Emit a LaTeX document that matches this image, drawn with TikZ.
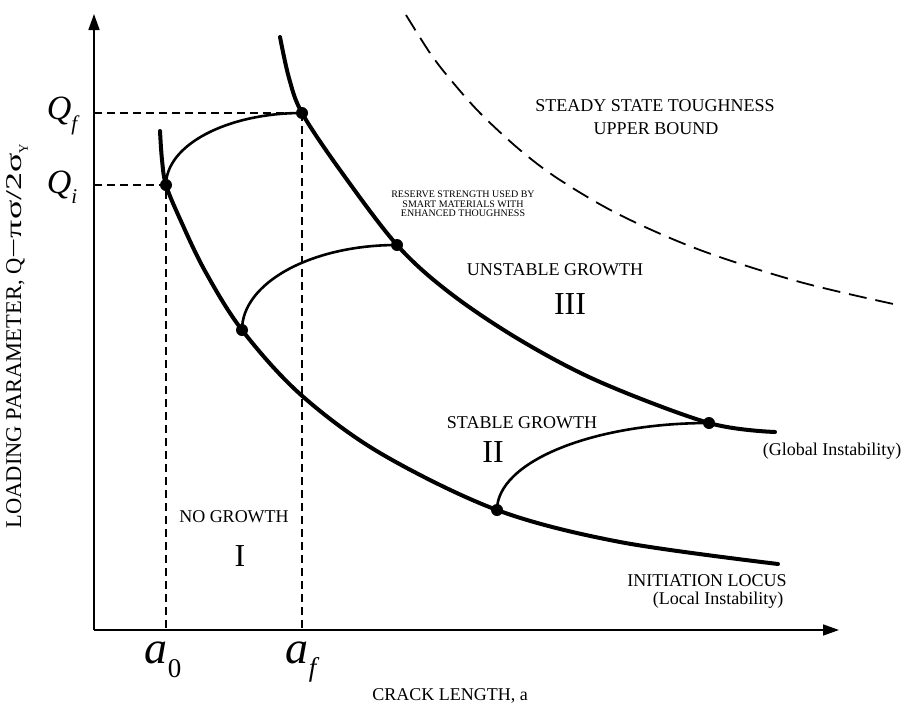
\documentclass[tikz,border=0pt]{standalone}
\usepackage{fontspec}
\setmainfont{Liberation Serif}
\usetikzlibrary{arrows.meta}
\tikzset{
  maincurve/.style={line width=4pt, line cap=round},
  growarc/.style={line width=2.6pt},
  dotnode/.style={circle, fill=black, inner sep=0pt, minimum size=12pt},
  guide/.style={dashed, dash pattern=on 8pt off 5pt, line width=1.1pt},
  bounddash/.style={dashed, dash pattern=on 18pt off 9pt, line width=1.8pt},
  axisline/.style={line width=1.6pt, -{Triangle[length=16pt,width=11pt]}},
  lbl/.style={font=\fontsize{18}{20}\selectfont, inner sep=0pt, align=center},
  tiny/.style={font=\fontsize{10}{9.5}\selectfont, inner sep=0pt, align=center},
  roman/.style={font=\fontsize{32}{34}\selectfont, inner sep=0pt},
  qlbl/.style={font=\fontsize{34}{36}\selectfont\itshape, inner sep=0pt},
  albl/.style={font=\fontsize{46}{48}\selectfont\itshape, inner sep=0pt},
}
\newcommand{\lowsub}[2]{\raisebox{-0.3em}{\fontsize{#1}{#1}\selectfont #2}}
\begin{document}
\begin{tikzpicture}[x=1pt,y=-1pt]
\useasboundingbox (0,0) rectangle (908,707);
% axes
\coordinate (origin) at (94,630);
\coordinate (ytip) at (94,14);
\coordinate (xtip) at (839,630);
\draw[axisline] (origin) -- (ytip);
\draw[axisline] (origin) -- (xtip);
% dots
\node[dotnode] (qi) at (166,185) {};
\node[dotnode] (qf) at (302,113) {};
\node[dotnode] (l2) at (242,330) {};
\node[dotnode] (u2) at (397,245) {};
\node[dotnode] (l3) at (497,510) {};
\node[dotnode] (u3) at (709,423) {};
% guide lines
\coordinate (yqf) at (94,113);
\coordinate (yqi) at (94,185);
\coordinate (xa0) at (166,630);
\coordinate (xaf) at (302,630);
\draw[guide] (yqf) -- (qf.center) -- (xaf);
\draw[guide] (yqi) -- (qi.center) -- (xa0);
% initiation locus
\draw[maincurve] plot[smooth, tension=0.55] coordinates {(160,131) (162,160) (166,185) (180,219) (205,271) (242,330) (300,394) (380,453) (497,510) (620,542) (778,564)};
% global instability curve
\draw[maincurve] plot[smooth, tension=0.55] coordinates {(280,37) (289,78) (302,113) (340,170) (397,245) (450,293) (520,340) (600,382) (709,423) (775,432)};
% upper bound
\draw[bounddash] plot[smooth, tension=0.55] coordinates {(406,15) (430,53) (450,79) (480,113) (520,150) (560,180) (620,215) (700,250) (800,282) (898,305)};
% growth arcs
\draw[growarc] (qi.center) .. controls +(0,-40) and +(-75,0) .. (qf.center);
\draw[growarc] (l2.center) .. controls +(0,-47) and +(-86,0) .. (u2.center);
\draw[growarc] (l3.center) .. controls +(0,-48) and +(-117,0) .. (u3.center);
% labels
\node[lbl] (steady) at (655,106) {STEADY STATE TOUGHNESS};
\node[lbl] (upper) at (656,129) {UPPER BOUND};
\node[tiny] (reserve) at (463,204) {RESERVE STRENGTH USED BY\\SMART MATERIALS WITH\\ENHANCED THOUGHNESS};
\node[lbl] (unstable) at (555,270) {UNSTABLE GROWTH};
\node[roman] (r3) at (570,304) {III};
\node[lbl] (stable) at (522,423) {STABLE GROWTH};
\node[roman] (r2) at (493,452) {II};
\node[lbl] (nogrowth) at (234,517) {NO GROWTH};
\node[roman] (r1) at (240,556) {I};
\node[lbl] (global) at (832,451) {(Global Instability)};
\node[lbl] (init) at (707,581) {INITIATION LOCUS};
\node[lbl] (local) at (718,600) {(Local Instability)};
\node[lbl] (crack) at (450,696) {CRACK LENGTH, a};
\node[lbl, font=\fontsize{22.5}{24}\selectfont, rotate=90] (ylab) at (17,336) {LOADING PARAMETER, Q\scalebox{1.6}[1]{−πσ/2σ}\lowsub{13}{Y}};
\node[qlbl] (qflab) at (62,116) {Q\lowsub{21}{f}};
\node[qlbl] (qilab) at (62,187) {Q\lowsub{21}{i}};
\node[albl] (a0lab) at (163,660) {a\lowsub{27}{\upshape 0}};
\node[albl] (aflab) at (301,662) {a\lowsub{27}{f}};
\end{tikzpicture}
\end{document}
